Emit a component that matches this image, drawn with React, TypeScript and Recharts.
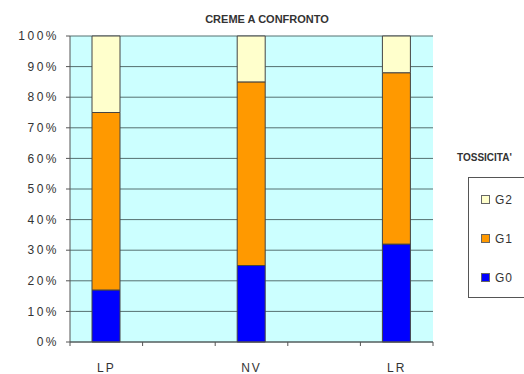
import React from 'react';
import { BarChart, Bar, XAxis, YAxis, CartesianGrid, Legend } from 'recharts';

// Five slots on the category axis: the blank ones leave the gaps between creams
const categories = ['LP', '', 'NV', '', 'LR'];
const g0 = [17, null, 25, null, 32];
const g1 = [58, null, 60, null, 56];
const g2 = [25, null, 15, null, 12];
const yTicks = [0, 10, 20, 30, 40, 50, 60, 70, 80, 90, 100];

const seriesColors = { G0: '#0000ff', G1: '#ff9900', G2: '#ffffcc' };

const data = categories.map((name, i) => ({
    key: `c${i}`,
    name,
    G0: g0[i],
    G1: g1[i],
    G2: g2[i]
}));

const FONT = '"Liberation Sans", Arial, sans-serif';

// Category label plus Excel-style tick marks on the band edges
const CategoryTick = (props: any) => {
    const { x, y, payload, index } = props;
    const half = payload.offset || 0;
    return (
        <g>
            {index === 0 && <line x1={x - half} x2={x - half} y1={y} y2={y + 4} stroke="#555" />}
            <line x1={x + half} x2={x + half} y1={y} y2={y + 4} stroke="#555" />
            <text x={x} y={y + 30} textAnchor="middle" fontSize={12} letterSpacing={2} fill="#333" fontFamily={FONT}>
                {categories[index]}
            </text>
        </g>
    );
};

// Legend box runs off the right edge of the page
const LegendBox = (props: any) => {
    const items = [...(props.payload || [])].reverse();
    return (
        <div style={{ position: 'relative', fontFamily: FONT }}>
            <div style={{ position: 'absolute', left: -11, top: -25, fontSize: 10, fontWeight: 'bold', color: '#333', whiteSpace: 'nowrap' }}>
                TOSSICITA'
            </div>
            <div style={{ position: 'absolute', left: 0, top: 0, borderTop: '1px solid #555', borderLeft: '1px solid #555', borderBottom: '1px solid #555', height: 121, width: 110, boxSizing: 'border-box', display: 'flex', flexDirection: 'column', justifyContent: 'space-around', paddingLeft: 12, paddingTop: 2 }}>
                {items.map((item: any) => (
                    <div key={item.value} style={{ display: 'flex', alignItems: 'center', gap: 5, fontSize: 12, color: '#333', letterSpacing: 1 }}>
                        <span style={{ width: 7, height: 7, background: item.color, border: '1px solid #666', display: 'inline-block' }} />
                        {item.value}
                    </div>
                ))}
            </div>
        </div>
    );
};

export default function App() {
    return (
        <div style={{ position: 'absolute', left: 0, top: 0, width: 524, height: 374, overflow: 'hidden', background: '#fff' }}>
            <div style={{ position: 'absolute', left: 0, top: 13, width: 534, textAlign: 'center', fontFamily: FONT, fontSize: 11, fontWeight: 'bold', color: '#333' }}>
                CREME A CONFRONTO
            </div>
            <BarChart width={524} height={374} data={data} margin={{ top: 36, right: 91, bottom: 0, left: 0 }} barSize={28}>
                <CartesianGrid vertical={false} fill="#ccffff" fillOpacity={1} stroke="#557070" strokeOpacity={1} />
                <XAxis
                    dataKey="key"
                    height={32}
                    interval={0}
                    axisLine={{ stroke: '#555' }}
                    tickLine={false}
                    tickSize={0}
                    tickMargin={0}
                    tick={<CategoryTick />}
                />
                <YAxis
                    width={70}
                    domain={[0, 100]}
                    ticks={yTicks}
                    interval={0}
                    tickFormatter={(v) => `${v}%`}
                    axisLine={{ stroke: '#555' }}
                    tickLine={{ stroke: '#555' }}
                    tickSize={4}
                    tickMargin={7}
                    tick={{ fontSize: 12, fill: '#333', fontFamily: FONT, letterSpacing: 2.5 }}
                />
                <Legend
                    layout="horizontal"
                    verticalAlign="middle"
                    align="center"
                    content={<LegendBox />}
                    wrapperStyle={{ left: 468, top: 177, width: 110, height: 121 }}
                />
                <Bar dataKey="G0" name="G0" stackId="s" fill={seriesColors.G0} stroke="#444" strokeWidth={1} isAnimationActive={false} />
                <Bar dataKey="G1" name="G1" stackId="s" fill={seriesColors.G1} stroke="#444" strokeWidth={1} isAnimationActive={false} />
                <Bar dataKey="G2" name="G2" stackId="s" fill={seriesColors.G2} stroke="#444" strokeWidth={1} isAnimationActive={false} />
            </BarChart>
        </div>
    );
}
